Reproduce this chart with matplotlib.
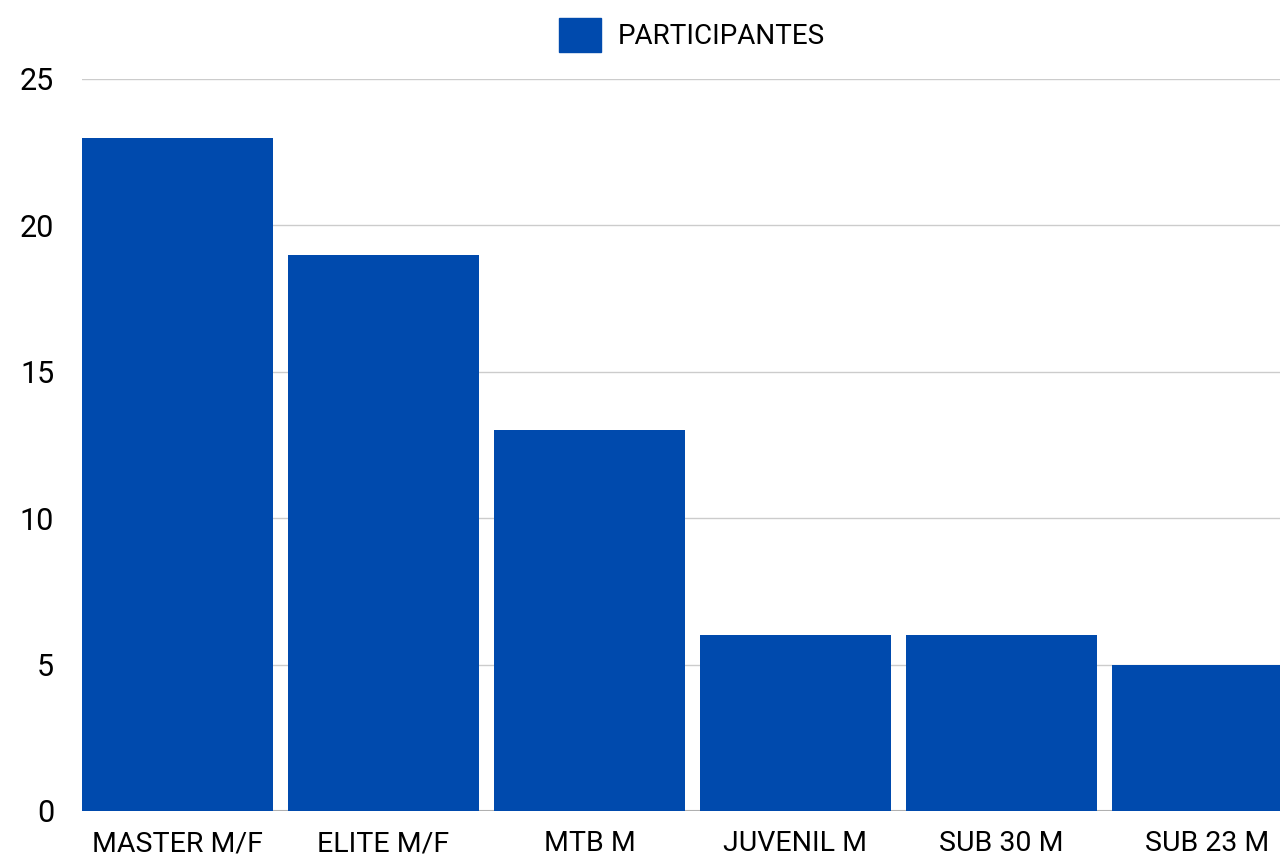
import matplotlib.pyplot as plt
from matplotlib.patches import Patch

categories = ['MASTER M/F', 'ELITE M/F', 'MTB M', 'JUVENIL M', 'SUB 30 M', 'SUB 23 M']
participantes = [23, 19, 13, 6, 6, 5]
yticks = [0, 5, 10, 15, 20, 25]

bar_color = '#004aad'
plt.rcParams['font.family'] = ['Liberation Sans Narrow', 'Roboto', 'DejaVu Sans']

W, H = 1280, 858
fig = plt.figure(figsize=(W / 100, H / 100), dpi=100)
# axes runs past right edge so last bar gets clipped like the reference
left, right = 82, 1318
bottom, top = 811, 79
ax = fig.add_axes([left / W, 1 - bottom / H, (right - left) / W, (bottom - top) / H])

bw = 191 / 206
ax.bar(range(len(categories)), participantes, width=bw, color=bar_color, zorder=2)
ax.set_xlim(-bw / 2, len(categories) - bw / 2)
ax.set_ylim(0, 25)
ax.set_yticks(yticks)
ax.set_xticks(range(len(categories)))
ax.set_xticklabels(categories)
ax.grid(axis='y', color='#cccccc', linewidth=1, zorder=0)
for s in ax.spines.values():
    s.set_visible(False)
ax.axhline(0, color='#aaaaaa', linewidth=1.5, zorder=1)
ax.tick_params(axis='both', length=0, colors='black')
ax.tick_params(axis='x', labelsize=20.5, pad=14)
ax.tick_params(axis='y', labelsize=22, pad=20)

fig.legend(handles=[Patch(color=bar_color, label='PARTICIPANTES')],
           loc='center', bbox_to_anchor=(692 / W, 1 - 35 / H), frameon=False,
           fontsize=20, handlelength=1.5, handleheight=1.5, handletextpad=0.6)

fig.savefig('out.png', dpi=100)
